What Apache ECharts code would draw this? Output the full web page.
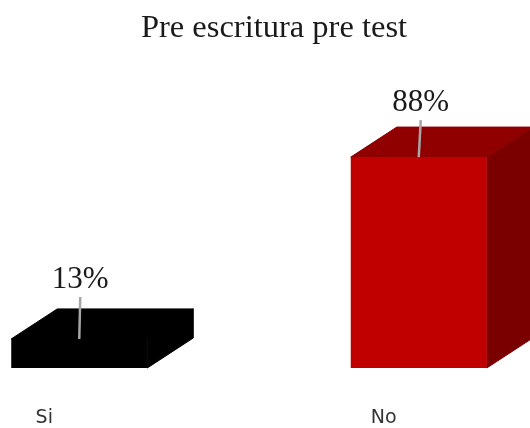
<!DOCTYPE html>
<html lang="es">

<head>
    <meta charset="UTF-8">
    <title>Pre escritura pre test</title>
    <script src="https://cdn.jsdelivr.net/npm/echarts@6/dist/echarts.min.js"></script>
    <style>
        body {
            margin: 0;
        }

        #root {
            width: 530px;
            height: 428px;
        }
    </style>
</head>

<body>

    <div id="root"></div>
    <script>

        var categories = ['Si', 'No'];
        var percents = [13, 88];

        var frontColors = ['#000000', '#c00000'];
        var topColors = ['#000000', '#900000'];
        var sideColors = ['#000000', '#7a0000'];

        var mychart = echarts.init(document.getElementById("root"));

        mychart.setOption({
            animation: false,
            backgroundColor: '#ffffff',
            title: {
                text: 'Pre escritura pre test',
                left: 269,
                top: 7,
                textAlign: 'center',
                textStyle: {
                    fontFamily: 'Liberation Serif',
                    fontSize: 32.5,
                    fontWeight: 'normal',
                    color: '#1a1a1a'
                }
            },
            grid: {
                left: -90.5,
                width: 679,
                top: 128,
                height: 240,
                outerBoundsMode: 'none'
            },
            xAxis: {
                type: 'category',
                data: categories,
                axisLine: { show: false },
                axisTick: { show: false },
                axisLabel: {
                    margin: 41,
                    fontFamily: 'DejaVu Sans',
                    fontSize: 19,
                    color: '#333333',
                    padding: [0, 70, 0, 0]
                }
            },
            yAxis: {
                type: 'value',
                min: 1,
                max: 100,
                show: false
            },
            series: [{
                type: 'custom',
                clip: false,
                renderItem: function (params, api) {
                    var i = params.dataIndex;
                    var top = api.coord([api.value(0), api.value(1)]);
                    var base = api.coord([api.value(0), 1]);
                    var halfW = 68;
                    var dx = 46;
                    var dy = 30;
                    var x1 = top[0] - halfW;
                    var x2 = top[0] + halfW;

                    // leader and label sit a bit differently on each bar
                    var lineLen = i === 0 ? 42 : 37;
                    var lineLean = i === 0 ? 1 : 2;
                    var labelLift = i === 0 ? 59 : 54;

                    return {
                        type: 'group',
                        children: [{
                            type: 'polygon',
                            shape: { points: [[x2, top[1]], [x2 + dx, top[1] - dy], [x2 + dx, base[1] - dy], [x2, base[1]]] },
                            style: { fill: sideColors[i], stroke: sideColors[i], lineWidth: 1 }
                        }, {
                            type: 'polygon',
                            shape: { points: [[x1, top[1]], [x1 + dx, top[1] - dy], [x2 + dx, top[1] - dy], [x2, top[1]]] },
                            style: { fill: topColors[i], stroke: topColors[i], lineWidth: 1 }
                        }, {
                            type: 'rect',
                            shape: { x: x1, y: top[1], width: halfW * 2, height: base[1] - top[1] },
                            style: { fill: frontColors[i] }
                        }, {
                            type: 'line',
                            shape: { x1: top[0], y1: top[1], x2: top[0] + lineLean, y2: top[1] - lineLen },
                            style: { stroke: '#a6a6a6', lineWidth: 2.5 }
                        }, {
                            type: 'text',
                            style: {
                                x: top[0] + lineLean,
                                y: top[1] - labelLift,
                                text: api.value(1) + '%',
                                align: 'center',
                                verticalAlign: 'middle',
                                font: '31px "Liberation Serif"',
                                fill: '#1a1a1a'
                            }
                        }]
                    };
                },
                data: percents.map(function (v, i) { return [i, v]; })
            }]
        });

    </script>

</body>

</html>
